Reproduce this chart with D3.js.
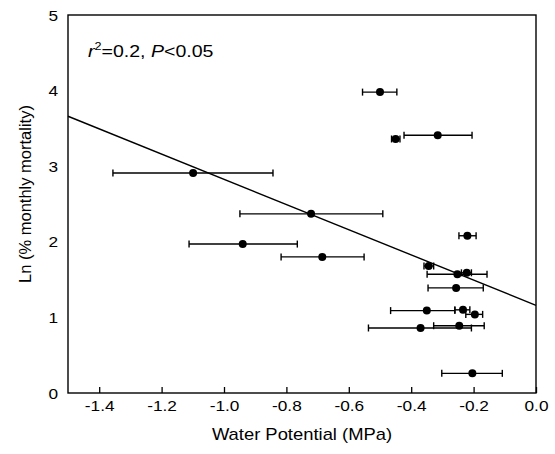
<!DOCTYPE html>
<html><head><meta charset="utf-8">
<script src="https://cdn.jsdelivr.net/npm/d3@7"></script>
<style>body{margin:0;background:#fff}svg{display:block}text{font-family:"Liberation Sans",Arial,sans-serif;fill:#000}</style>
</head><body>
<script>
// Data: water potential (MPa), Ln(% monthly mortality), error bar extents
const waterPotential = [-0.500, -0.315, -0.450, -1.099, -0.721, -0.220, -0.940, -0.685, -0.344, -0.252, -0.222, -0.256, -0.350, -0.234, -0.196, -0.370, -0.246, -0.204];
const lnMortality    = [3.98, 3.41, 3.36, 2.91, 2.37, 2.08, 1.97, 1.80, 1.68, 1.57, 1.59, 1.39, 1.09, 1.10, 1.04, 0.86, 0.89, 0.26];
const errLow         = [-0.556, -0.423, -0.463, -1.356, -0.949, -0.247, -1.112, -0.817, -0.359, -0.349, -0.239, -0.346, -0.466, -0.260, -0.225, -0.537, -0.328, -0.302];
const errHigh        = [-0.446, -0.205, -0.436, -0.843, -0.491, -0.192, -0.765, -0.551, -0.328, -0.157, -0.207, -0.169, -0.260, -0.212, -0.171, -0.207, -0.166, -0.108];
const xTicks = [-1.4, -1.2, -1.0, -0.8, -0.6, -0.4, -0.2, 0.0];
const yTicks = [0, 1, 2, 3, 4, 5];
const fitSlope = -1.667, fitIntercept = 1.16;

const W = 555, H = 454;
const m = {left: 68, right: 536, top: 15, bottom: 393};
const sx = 1.15; // horizontal text stretch

const svg = d3.select("body").append("svg").attr("width", W).attr("height", H);
const x = d3.scaleLinear().domain([-1.5, 0]).range([m.left, m.right]);
const y = d3.scaleLinear().domain([0, 5]).range([m.bottom, m.top]);

// Frame
svg.append("rect").attr("x", m.left).attr("y", m.top)
  .attr("width", m.right - m.left).attr("height", m.bottom - m.top)
  .attr("fill", "none").attr("stroke", "#000").attr("stroke-width", 1.4);

// X axis ticks (inward) and labels
const xAxis = d3.axisBottom(x).tickValues(xTicks).tickSize(-6).tickFormat(d3.format(".1f"));
const gx = svg.append("g").attr("transform", `translate(0,${m.bottom})`).call(xAxis);
gx.select(".domain").remove();
gx.selectAll(".tick line").attr("stroke", "#000").attr("stroke-width", 1.3);
gx.selectAll(".tick text").remove();
gx.selectAll(".tick").append("text")
  .attr("transform", `translate(0,18) scale(${sx},1)`)
  .attr("text-anchor", "middle").attr("font-size", 15).attr("fill", "#000")
  .text(d => d === 0 ? "0.0" : d3.format(".1f")(d).replace("−", "-"));

// Y axis labels (no ticks)
const yAxis = d3.axisLeft(y).tickValues(yTicks).tickSize(0).tickFormat(d3.format("d"));
const gy = svg.append("g").attr("transform", `translate(${m.left},0)`).call(yAxis);
gy.select(".domain").remove();
gy.selectAll(".tick line").remove();
gy.selectAll(".tick text").remove();
gy.selectAll(".tick").append("text")
  .attr("transform", `translate(-10,5) scale(${sx},1)`)
  .attr("text-anchor", "end").attr("font-size", 15).attr("fill", "#000")
  .text(d => d);

// Regression line
svg.append("line")
  .attr("x1", x(-1.5)).attr("y1", y(fitSlope * -1.5 + fitIntercept))
  .attr("x2", x(0)).attr("y2", y(fitIntercept))
  .attr("stroke", "#000").attr("stroke-width", 1.4);

// Error bars
const idx = d3.range(waterPotential.length);
const eb = svg.append("g").attr("stroke", "#000").attr("stroke-width", 1.4);
idx.forEach(i => {
  const yy = y(lnMortality[i]);
  eb.append("line").attr("x1", x(errLow[i])).attr("x2", x(errHigh[i])).attr("y1", yy).attr("y2", yy);
  eb.append("line").attr("x1", x(errLow[i])).attr("x2", x(errLow[i])).attr("y1", yy - 3.5).attr("y2", yy + 3.5);
  eb.append("line").attr("x1", x(errHigh[i])).attr("x2", x(errHigh[i])).attr("y1", yy - 3.5).attr("y2", yy + 3.5);
});

// Points
svg.append("g").selectAll("circle").data(idx).join("circle")
  .attr("cx", i => x(waterPotential[i])).attr("cy", i => y(lnMortality[i]))
  .attr("r", 4).attr("fill", "#000");

// Annotation
const ann = svg.append("text")
  .attr("transform", `translate(88,57) scale(${sx},1)`)
  .attr("font-size", 17);
ann.append("tspan").attr("font-style", "italic").text("r");
ann.append("tspan").attr("font-size", 11).attr("dy", -7).text("2");
ann.append("tspan").attr("dy", 7).text("=0.2, ");
ann.append("tspan").attr("font-style", "italic").text("P");
ann.append("tspan").text("<0.05");

// Axis titles
svg.append("text")
  .attr("transform", `translate(${(m.left + m.right) / 2},440) scale(${sx},1)`)
  .attr("text-anchor", "middle").attr("font-size", 16)
  .text("Water Potential (MPa)");
svg.append("text")
  .attr("transform", `translate(31,194) rotate(-90)`)
  .attr("text-anchor", "middle").attr("font-size", 16.5)
  .text("Ln (% monthly mortality)");
</script>
</body></html>
